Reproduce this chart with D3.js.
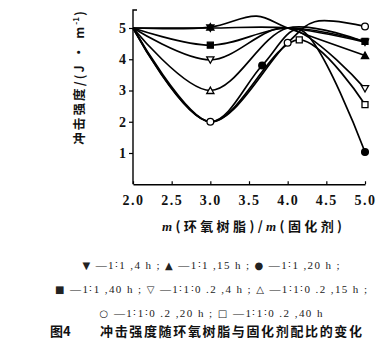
<!DOCTYPE html>
<html><head><meta charset="utf-8">
<script src="https://cdn.jsdelivr.net/npm/d3@7"></script>
<style>
body{margin:0;background:#fff;}
svg{display:block;}
</style></head>
<body>
<svg id="c" width="391" height="359"></svg>
<script>
// ---- data ----
const xTicks = [2.0, 2.5, 3.0, 3.5, 4.0, 4.5, 5.0];
const yTicks = [1, 2, 3, 4, 5];
const seriesLabels = ["1∶1 ,4 h", "1∶1 ,15 h", "1∶1 ,20 h", "1∶1 ,40 h",
  "1∶1∶0 .2 ,4 h", "1∶1∶0 .2 ,15 h", "1∶1∶0 .2 ,20 h", "1∶1∶0 .2 ,40 h"];
const seriesSymbols = ["triDownF", "triUpF", "circleF", "squareF", "triDownO", "triUpO", "circleO", "squareO"];
const seriesGlyphs = ["▼", "▲", "●", "■", "▽", "△", "○", "□"];
const sX = [
  [2, 3, 4, 5],
  [2, 3, 3.6, 4, 5],
  [2, 3, 3.67, 4.15, 5],
  [2, 3, 4, 5],
  [2, 3, 4, 5],
  [2, 3, 4, 5],
  [2, 3, 4, 4.35, 5],
  [2, 3, 4.15, 5]
];
const sY = [
  [5.0, 5.0, 5.0, 4.55],
  [5.0, 5.03, 5.38, 5.0, 4.12],
  [5.0, 2.0, 3.8, 4.95, 1.03],
  [5.0, 4.45, 5.0, 4.57],
  [5.0, 3.98, 5.0, 3.06],
  [5.0, 3.0, 5.0, 4.55],
  [5.0, 2.0, 4.53, 5.2, 5.05],
  [5.0, 2.0, 4.62, 2.55]
];
const sMarkAt = [
  [3, 5], [3, 5], [3.67, 5], [3, 5], [3, 5], [3], [3, 4, 5], [4.15, 5]
];
const xTitle = ["m", "(环氧树脂)/", "m", "(固化剂)"];
const yTitle = "冲击强度/(J · m";
const captionNo = "图4";
const caption = "冲击强度随环氧树脂与固化剂配比的变化";

// ---- drawing ----
const svg = d3.select("#c");
const x = d3.scaleLinear().domain([2, 5]).range([133, 365]);
const y = d3.scaleLinear().domain([0, 5]).range([184.25, 28]);
const yTop = 10;

const serif = "'Liberation Serif','DejaVu Serif',serif";
const cjk = "'Noto Sans CJK SC','Noto Sans',sans-serif";

// x axis
const gx = svg.append("g").attr("transform", `translate(0,${y(0)})`)
  .call(d3.axisBottom(x).tickValues(xTicks).tickSizeInner(-3).tickSizeOuter(0)
    .tickFormat(d3.format(".1f")));
gx.select(".domain").attr("stroke", "#000").attr("stroke-width", 1.4);
gx.selectAll(".tick line").attr("stroke", "#000").attr("stroke-width", 1.2);
gx.selectAll(".tick text").attr("y", 11).attr("dy", "0.71em")
  .attr("font-family", serif).attr("font-weight", "bold").attr("font-size", 14)
  .attr("letter-spacing", 1.5).attr("fill", "#111");

// y axis
const gy = svg.append("g").attr("transform", `translate(${x(2)},0)`)
  .call(d3.axisLeft(y).tickValues(yTicks).tickSizeInner(4).tickSizeOuter(0)
    .tickFormat(d3.format("d")));
gy.select(".domain").attr("d", `M0,${y(0)}V${yTop}h4`).attr("fill", "none")
  .attr("stroke", "#000").attr("stroke-width", 1.4);
gy.selectAll(".tick line").attr("stroke", "#000").attr("stroke-width", 1.2);
gy.selectAll(".tick text").attr("x", -7)
  .attr("font-family", serif).attr("font-weight", "bold").attr("font-size", 14).attr("fill", "#111");

// lines
const line = d3.line().x(d => x(d[0])).y(d => y(d[1])).curve(d3.curveCatmullRom.alpha(0.5));
const series = sX.map((xs, i) => ({
  pts: xs.map((v, j) => [v, sY[i][j]]),
  sym: seriesSymbols[i],
  marks: sMarkAt[i]
}));
svg.append("g").selectAll("path").data(series).join("path")
  .attr("d", d => line(d.pts)).attr("fill", "none").attr("stroke", "#000")
  .attr("stroke-width", 1.7);

// markers
function symPath(sym) {
  if (sym.startsWith("triDown")) return "M-3.6,-3L3.6,-3L0,3.4Z";
  if (sym.startsWith("triUp")) return "M-3.6,3L3.6,3L0,-3.4Z";
  if (sym.startsWith("square")) return "M-3,-3H3V3H-3Z";
  return d3.symbol(d3.symbolCircle, 36)();
}
const mg = svg.append("g");
series.forEach(s => {
  s.pts.filter(p => s.marks.includes(p[0])).forEach(p => {
    mg.append("path").attr("d", symPath(s.sym))
      .attr("transform", `translate(${x(p[0])},${y(p[1])})`)
      .attr("fill", s.sym.endsWith("F") ? "#000" : "#fff")
      .attr("stroke", "#000").attr("stroke-width", 1.3);
  });
});

// x title
const xt = svg.append("text").attr("x", 252).attr("y", 231).attr("text-anchor", "middle")
  .attr("font-size", 13).attr("font-weight", "bold").attr("fill", "#111")
  .attr("textLength", 180).attr("lengthAdjust", "spacing");
xTitle.forEach((t, i) => {
  xt.append("tspan").text(t)
    .attr("font-family", i % 2 === 0 ? serif : cjk)
    .attr("font-style", i % 2 === 0 ? "italic" : "normal");
});

// y title
const yt = svg.append("text").attr("transform", "translate(84,78) rotate(-90)")
  .attr("text-anchor", "middle").attr("font-family", cjk).attr("font-size", 12.5)
  .attr("font-weight", "bold").attr("fill", "#111");
yt.append("tspan").text(yTitle).attr("textLength", 118).attr("lengthAdjust", "spacing");
yt.append("tspan").text("-1").attr("font-size", 8).attr("dy", -5);
yt.append("tspan").text(")").attr("dy", 5).attr("dx", 1);

// legend
const legendRows = [[0, 1, 2], [3, 4, 5], [6, 7]];
const rowY = [269, 293, 317];
const rowW = [257, 312, 223];
legendRows.forEach((row, r) => {
  const txt = svg.append("text").attr("x", 211).attr("y", rowY[r]).attr("text-anchor", "middle")
    .attr("font-family", serif).attr("font-size", 11).attr("fill", "#222")
    .attr("textLength", rowW[r]).attr("lengthAdjust", "spacing");
  row.forEach((k, j) => {
    txt.append("tspan").text(seriesGlyphs[k]).attr("font-family", "'DejaVu Sans',sans-serif").attr("font-size", 10);
    txt.append("tspan").text(" —" + seriesLabels[k] + (j < row.length - 1 || r < 2 ? " ; " : ""));
  });
});

// caption
svg.append("text").attr("x", 50).attr("y", 336)
  .attr("font-family", cjk).attr("font-size", 13).attr("font-weight", "bold").attr("fill", "#111")
  .text(captionNo);
svg.append("text").attr("x", 100).attr("y", 336)
  .attr("font-family", cjk).attr("font-size", 13).attr("font-weight", "600").attr("fill", "#111")
  .attr("textLength", 262).attr("lengthAdjust", "spacing")
  .text(caption);
</script>
</body></html>
